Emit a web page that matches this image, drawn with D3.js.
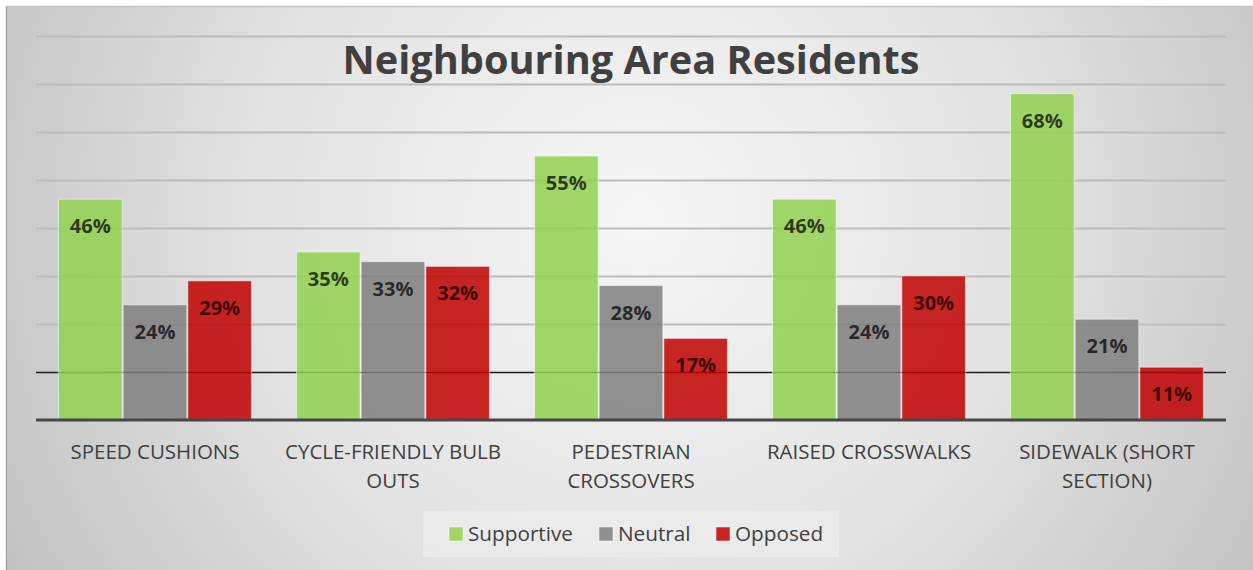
<!DOCTYPE html>
<html><head><meta charset="utf-8">
<script src="https://cdn.jsdelivr.net/npm/d3@7"></script>
<style>html,body{margin:0;padding:0;background:#fff;}svg{display:block;}</style>
</head><body>
<svg id="c" width="1253" height="570"></svg>
<script>
const title = "Neighbouring Area Residents";
const categories = ["SPEED CUSHIONS","CYCLE-FRIENDLY BULB OUTS","PEDESTRIAN CROSSOVERS","RAISED CROSSWALKS","SIDEWALK (SHORT SECTION)"];
const categoryLines = [["SPEED CUSHIONS"],["CYCLE-FRIENDLY BULB","OUTS"],["PEDESTRIAN","CROSSOVERS"],["RAISED CROSSWALKS"],["SIDEWALK (SHORT","SECTION)"]];
const seriesNames = ["Supportive","Neutral","Opposed"];
const supportive = [46,35,55,46,68];
const neutral = [24,33,28,24,21];
const opposed = [29,32,17,30,11];
const gridTicks = [10,20,30,40,50,60,70,80];
const colors = ["#92d050","#7f7f7f","#c00000"];

(function(){
const FONT = "'Open Sans', 'DejaVu Sans', sans-serif";
const svg = d3.select("#c");
const defs = svg.append("defs");
const rg = defs.append("radialGradient").attr("id","bg").attr("gradientUnits","userSpaceOnUse")
  .attr("cx",640).attr("cy",220).attr("r",720);
rg.append("stop").attr("offset","0").attr("stop-color","#f6f6f6");
rg.append("stop").attr("offset","0.55").attr("stop-color","#e2e2e2");
rg.append("stop").attr("offset","1").attr("stop-color","#c2c2c2");

svg.append("rect").attr("x",6).attr("y",6).attr("width",1253-6).attr("height",570-6)
  .attr("fill","url(#bg)");
svg.append("line").attr("x1",6).attr("x2",1253).attr("y1",6.5).attr("y2",6.5).attr("stroke","#c4c4c4").attr("stroke-width",1.5);
svg.append("line").attr("x1",6.5).attr("x2",6.5).attr("y1",6).attr("y2",570).attr("stroke","#a8a8a8").attr("stroke-width",1.5);

const pLeft = 36, pRight = 1226, pTop = 36, pBase = 420;
const y = d3.scaleLinear().domain([0,80]).range([pBase, pTop]);
const x = d3.scaleBand().domain(categories).range([pLeft,pRight]).paddingInner(0.185).paddingOuter(0.0925);
const xs = d3.scaleBand().domain(seriesNames).range([0,x.bandwidth()]).padding(0);

function fit(sel, target){
  const w = sel.node().getComputedTextLength();
  const fs = parseFloat(sel.attr("font-size"));
  sel.attr("font-size", (fs*target/w).toFixed(2));
  return fs*target/w;
}

// gridlines
const grid = svg.append("g").attr("transform",`translate(${pLeft},0)`)
  .call(d3.axisLeft(y).tickValues(gridTicks).tickSize(-(pRight-pLeft)).tickFormat(""));
grid.select(".domain").remove();
grid.selectAll(".tick line").attr("stroke",d=>d===10?"#1e1e1e":"#bcbcbc").attr("stroke-width",d=>d===10?1.6:1.8);

// bars
const seriesData = [supportive, neutral, opposed];
const data = [];
categories.forEach((c,i)=>seriesNames.forEach((s,j)=>data.push({c, s, j, v: seriesData[j][i]})));

const bars = svg.append("g");
bars.selectAll("rect").data(data).join("rect")
  .attr("x", d=>x(d.c)+xs(d.s)+0.5)
  .attr("width", xs.bandwidth()-1)
  .attr("y", d=>y(d.v))
  .attr("height", d=>pBase-y(d.v))
  .attr("fill", d=>colors[d.j]).attr("fill-opacity",0.85)
  .attr("stroke","#ffffff").attr("stroke-opacity",0.45).attr("stroke-width",1.2);

// baseline
svg.append("line").attr("x1",pLeft).attr("x2",pRight).attr("y1",y(0)).attr("y2",y(0))
  .attr("stroke","#474747").attr("stroke-width",3);

// data labels
const lbl = svg.append("g").selectAll("text").data(data).join("text")
  .attr("x", d=>x(d.c)+xs(d.s)+xs.bandwidth()/2)
  .attr("y", d=>y(d.v)+34)
  .attr("text-anchor","middle")
  .attr("font-family",FONT).attr("font-weight","bold").attr("font-size",18)
  .attr("fill","#000").attr("fill-opacity",0.72)
  .text(d=>d.v+"%");
{
  const t = svg.append("text").attr("font-family",FONT).attr("font-weight","bold").attr("font-size",18).text("35%");
  const fs = fit(t, 41); t.remove();
  lbl.attr("font-size", fs.toFixed(2));
}

// category axis
const xa = svg.append("g").attr("transform",`translate(0,${pBase})`)
  .call(d3.axisBottom(x).tickSize(0).tickFormat(""));
xa.select(".domain").remove();
let catFs;
{
  const t = svg.append("text").attr("font-family",FONT).attr("font-size",18).text("SPEED CUSHIONS");
  catFs = fit(t, 169); t.remove();
}
xa.selectAll(".tick").each(function(d,i){
  const t = d3.select(this).append("text").attr("text-anchor","middle")
    .attr("font-family",FONT).attr("font-size",catFs.toFixed(2)).attr("fill","#404040");
  categoryLines[i].forEach((ln,k)=>{
    t.append("tspan").attr("x",0).attr("y",39+k*29).text(ln);
  });
});

// title
const tt = svg.append("text").attr("x",631).attr("y",74).attr("text-anchor","middle")
  .attr("font-family",FONT).attr("font-weight","bold").attr("font-size",40).attr("fill","#404040").text(title);
fit(tt, 577);

// legend
const lg = svg.append("g");
lg.append("rect").attr("x",423).attr("y",511).attr("width",416).attr("height",46).attr("fill","#ececec").attr("fill-opacity",0.7);
let legFs;
{
  const t = svg.append("text").attr("font-family",FONT).attr("font-size",20).text("Supportive");
  legFs = fit(t, 105); t.remove();
}
const legX = [449, 599, 716];
seriesNames.forEach((s,j)=>{
  lg.append("rect").attr("x",legX[j]).attr("y",527).attr("width",14).attr("height",14)
    .attr("fill",colors[j]).attr("fill-opacity",0.85).attr("stroke","#fff").attr("stroke-opacity",0.5);
  lg.append("text").attr("x",legX[j]+19).attr("y",541).attr("font-family",FONT).attr("font-size",legFs.toFixed(2))
    .attr("fill","#404040").text(s);
});
})();
</script>
</body></html>
